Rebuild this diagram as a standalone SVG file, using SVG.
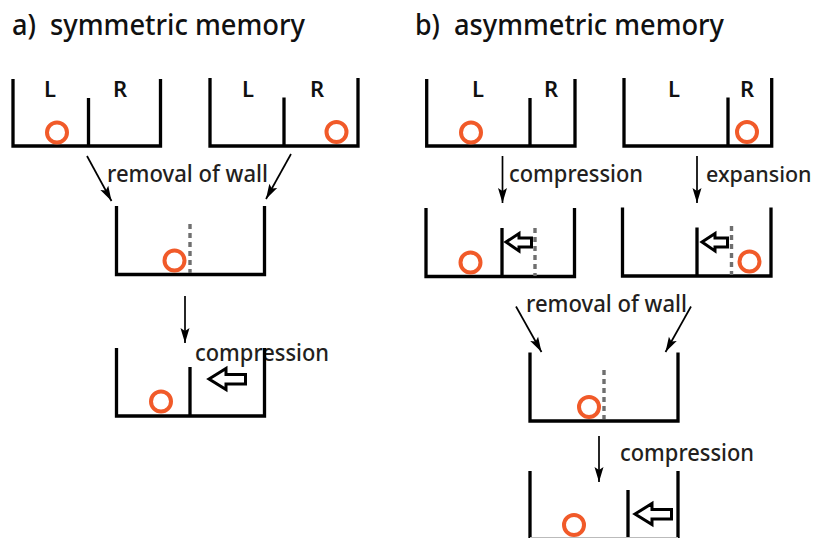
<svg xmlns="http://www.w3.org/2000/svg" width="816" height="538" viewBox="0 0 816 538">
<defs>
<marker id="ah" markerUnits="userSpaceOnUse" markerWidth="15" markerHeight="9.5" refX="15" refY="4.5" viewBox="0 0 15 9" orient="auto" overflow="visible"><path d="M0 0L15 4.5L0 9L3 4.5Z" fill="#000"/></marker>
<path id="hollow" d="M0 0L17 -10.5V-4.5H36.5V5H17V10.5Z"/>
</defs>
<style>
.w{fill:none;stroke:#000;stroke-width:3.3}
.d{fill:none;stroke:#6f6f6f;stroke-width:3.4;stroke-dasharray:5 4}
.b{fill:none;stroke:#f15a29;stroke-width:4}
.c{fill:none;stroke:#000;stroke-width:1.7;marker-end:url(#ah)}
.h{fill:#fff;stroke:#000;stroke-width:3}
text{font-family:"Noto Sans","Open Sans","Liberation Sans",sans-serif;fill:#231f20}
.t{font-size:28px;font-weight:500;fill:#111}
.l{font-size:23px;font-weight:500}
.m{font-size:22px;font-weight:600;fill:#111}
</style>
<rect width="816" height="538" fill="#fff"/>
<g id="titles">
<text class="t" x="12" y="35" textLength="24" lengthAdjust="spacingAndGlyphs">a)</text>
<text class="t" x="50" y="35" textLength="255" lengthAdjust="spacingAndGlyphs">symmetric memory</text>
<text class="t" x="415" y="35" textLength="25" lengthAdjust="spacingAndGlyphs">b)</text>
<text class="t" x="454" y="35" textLength="270" lengthAdjust="spacingAndGlyphs">asymmetric memory</text>
</g>
<g id="connectors">
<line class="c" x1="87" y1="156" x2="111.5" y2="201"/>
<line class="c" x1="291" y1="154" x2="266" y2="199"/>
<line class="c" x1="185" y1="296" x2="185" y2="343"/>
<line class="c" x1="502.5" y1="156" x2="502.5" y2="203"/>
<line class="c" x1="697" y1="156" x2="697" y2="203"/>
<line class="c" x1="516" y1="306.5" x2="541.5" y2="352"/>
<line class="c" x1="691" y1="306.5" x2="665.5" y2="352"/>
<line class="c" x1="599" y1="436" x2="599" y2="482"/>
</g>
<g id="labels">
<text class="l" x="107" y="182" textLength="161" lengthAdjust="spacingAndGlyphs">removal of wall</text>
<text class="l" x="195" y="361" textLength="134" lengthAdjust="spacingAndGlyphs">compression</text>
<text class="l" x="509" y="182" textLength="134" lengthAdjust="spacingAndGlyphs">compression</text>
<text class="l" x="706" y="182" style="font-size:21.5px">expansion</text>
<text class="l" x="526" y="312" textLength="161" lengthAdjust="spacingAndGlyphs">removal of wall</text>
<text class="l" x="620" y="461" textLength="134" lengthAdjust="spacingAndGlyphs">compression</text>
</g>
<g id="a1">
<path class="w" d="M13 79V146H160.5V79M88.5 98V146"/>
<circle class="b" cx="57" cy="132.5" r="10"/>
<text class="m" x="44" y="97">L</text><text class="m" x="113" y="97">R</text>
</g>
<g id="a2">
<path class="w" d="M210 78V146H358V78M284 97.5V146"/>
<circle class="b" cx="336.5" cy="132" r="10"/>
<text class="m" x="242" y="97">L</text><text class="m" x="310" y="97">R</text>
</g>
<g id="a3">
<path class="w" d="M116.5 206V274.5H264.5V206"/>
<line class="d" x1="190" y1="224" x2="190" y2="273"/>
<circle class="b" cx="174.5" cy="260.5" r="10"/>
</g>
<g id="a4">
<path class="w" d="M116.5 348V416H264.5V348M190 367V416"/>
<circle class="b" cx="161" cy="401.5" r="10"/>
<use href="#hollow" class="h" x="209" y="379"/>
</g>
<g id="b1">
<path class="w" d="M426.7 79V146H575V79M530 98V146"/>
<circle class="b" cx="471" cy="132.5" r="10"/>
<text class="m" x="472" y="97">L</text><text class="m" x="544" y="97">R</text>
</g>
<g id="b2">
<path class="w" d="M624 78V146H771.7V78M728 97.5V146"/>
<circle class="b" cx="747" cy="132" r="10"/>
<text class="m" x="668" y="97">L</text><text class="m" x="740" y="97">R</text>
</g>
<g id="b3">
<path class="w" d="M426 208V276.5H574.5V208M502 228V276.5"/>
<line class="d" x1="535" y1="228" x2="535" y2="276"/>
<circle class="b" cx="470.5" cy="262.5" r="10"/>
<path class="h" d="M506 242L519 233.5V238H531.5V247H519V251Z"/>
</g>
<g id="b4">
<path class="w" d="M622.5 207.5V276H771V207.5M697 227.5V276"/>
<line class="d" x1="731.5" y1="226" x2="731.5" y2="275"/>
<circle class="b" cx="749.5" cy="261.5" r="10"/>
<path class="h" d="M702 242L715 233.5V238H727.5V247H715V251Z"/>
</g>
<g id="b5">
<path class="w" d="M530 352.5V421H678V352.5"/>
<line class="d" x1="604" y1="370" x2="604" y2="419"/>
<circle class="b" cx="589" cy="407" r="10"/>
</g>
<g id="b6">
<path class="w" d="M530 471V538M678 471V538M628 490V538"/>
<line x1="530" y1="537.5" x2="678" y2="537.5" stroke="#bbb" stroke-width="1"/>
<circle class="b" cx="574" cy="525" r="10"/>
<use href="#hollow" class="h" x="635" y="514"/>
</g>
</svg>
